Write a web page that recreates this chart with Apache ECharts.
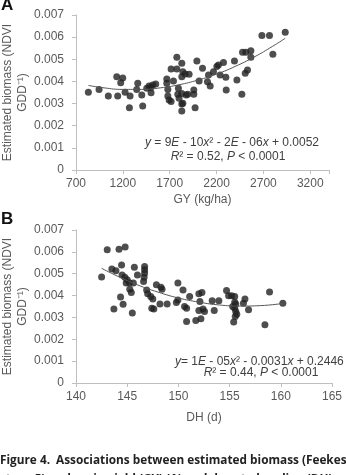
<!DOCTYPE html>
<html>
<head>
<meta charset="utf-8">
<script src="https://cdn.jsdelivr.net/npm/echarts@6/dist/echarts.min.js"></script>
<style>
html,body{margin:0;padding:0;background:#fff;}
#c{width:346px;height:475px;}
</style>
</head>
<body>
<div id="c"></div>
<script>
// Panel A: grain yield (kg/ha) vs estimated biomass
const gyA = [832,946,1045,1145,1135,1199,1177,1224,1277,1270,1348,1359,1402,1412,1455,1480,1498,1519,1551,1501,1669,1669,1680,1680,1694,1715,1740,1776,1715,1776,1829,1840,1829,1865,1793,1829,1800,1840,1829,1907,1893,1957,1957,1990,1971,2014,2050,2103,2114,2132,2167,2203,2220,2238,2274,2299,2303,2391,2417,2470,2477,2513,2506,2530,2566,2566,2684,2765,2801,2933,1786,1875,1829];
const bioA = [0.00351,0.00364,0.00334,0.00334,0.00421,0.00416,0.00394,0.00351,0.00334,0.00281,0.00364,0.00392,0.00339,0.00289,0.00369,0.00379,0.00373,0.00384,0.00388,0.00349,0.00411,0.00392,0.00364,0.00334,0.00316,0.00309,0.00402,0.00509,0.00456,0.00456,0.00482,0.00444,0.00421,0.00434,0.00369,0.00346,0.00324,0.00301,0.00266,0.00432,0.00342,0.00361,0.00342,0.00492,0.00281,0.00402,0.00459,0.00399,0.00429,0.00379,0.00444,0.00467,0.00474,0.00429,0.00486,0.00419,0.00361,0.00492,0.00407,0.00342,0.00532,0.00532,0.00437,0.00452,0.00539,0.00509,0.00607,0.00607,0.00523,0.00622,0.00342,0.00339,0.00298];
// Trend line A
const trendAx = [832,1000,1200,1400,1600,1800,2000,2200,2400,2600,2800,2933];
const trendAy = [0.00382,0.00371,0.00364,0.00364,0.00371,0.00385,0.00406,0.00433,0.00468,0.00510,0.00559,0.00595];

// Panel B: days to heading vs estimated biomass
const dhB = [142.5,143.05,144.2,144.8,143.5,143.9,144.45,144.5,144.77,145.0,145.2,144.9,145.6,145.7,146.0,145.25,145.4,144.35,144.6,143.7,145.5,146.7,146.7,146.7,146.65,146.6,146.9,147.0,147.3,147.5,147.4,147.6,147.85,148.3,148.4,148.2,148.9,149.95,150.45,149.95,149.8,150.6,150.8,151.1,152.0,152.3,152.1,152.0,152.4,152.55,151.7,152.2,150.8,153.3,153.95,153.5,154.7,154.9,155.2,155.5,155.5,155.3,155.6,155.5,155.6,155.7,155.55,155.4,156.35,156.5,156.85,158.9,158.45,160.2];
const bioB = [0.00485,0.00610,0.00612,0.00622,0.00521,0.00513,0.00540,0.00494,0.00484,0.00472,0.00459,0.00457,0.00457,0.00530,0.00494,0.00429,0.00414,0.00393,0.00360,0.00339,0.00320,0.00533,0.00518,0.00502,0.00484,0.00464,0.00426,0.00408,0.00396,0.00384,0.00342,0.00339,0.00449,0.00438,0.00429,0.00361,0.00361,0.00457,0.00426,0.00380,0.00368,0.00350,0.00342,0.00396,0.00408,0.00414,0.00373,0.00332,0.00338,0.00327,0.00286,0.00294,0.00281,0.00376,0.00376,0.00332,0.00423,0.00399,0.00399,0.00396,0.00370,0.00350,0.00361,0.00342,0.00327,0.00315,0.00304,0.00279,0.00365,0.00384,0.00335,0.00416,0.00266,0.00365];
const trendBx = [142.5,144,146,148,150,152,154,156,158,160.2];
const trendBy = [0.00525,0.00490,0.00449,0.00416,0.00389,0.00370,0.00357,0.00352,0.00354,0.00364];

const yTicks = ['0','0.001','0.002','0.003','0.004','0.005','0.006','0.007'];
const xTicksA = [700,1200,1700,2200,2700,3200];
const xTicksB = [140,145,150,155,160,165];

const zip = (a,b) => a.map((v,i)=>[v,b[i]]);
const FONT = '"Liberation Sans", Arial, sans-serif';
const axisCol = '#bfbfbf';
const labCol = '#595959';

function yAxis(gi){
  return {
    gridIndex: gi, type:'value', min:0, max:0.007, interval:0.001,
    axisLine:{show:true, lineStyle:{color:axisCol}},
    axisTick:{show:true, length:4, lineStyle:{color:axisCol}},
    splitLine:{show:false},
    axisLabel:{color:labCol, fontSize:12, fontFamily:FONT, margin:12,
      formatter:(v)=>{const i=Math.round(v/0.001); return yTicks[i]!==undefined?yTicks[i]:'';}},
    name:'Estimated biomass (NDVI\nGDD\u207B\u00B9)',
    nameLocation:'middle', nameGap:46, nameMoveOverlap:false,
    nameTextStyle:{color:labCol, fontSize:12, fontFamily:FONT, lineHeight:15}
  };
}
function xAxis(gi, min, max, interval, ticks, name, gap){
  return {
    gridIndex: gi, type:'value', min:min, max:max, interval:interval,
    axisLine:{show:true, onZero:false, lineStyle:{color:axisCol}},
    axisTick:{show:true, length:4, lineStyle:{color:axisCol}},
    splitLine:{show:false},
    axisLabel:{color:labCol, fontSize:12, fontFamily:FONT, margin:8,
      formatter:(v)=> ticks.indexOf(v)>=0 ? String(v) : ''},
    name:name, nameLocation:'middle', nameGap:gap, nameMoveOverlap:false,
    nameTextStyle:{color:labCol, fontSize:12, fontFamily:FONT}
  };
}

const chart = echarts.init(document.getElementById('c'), null, {renderer:'canvas'});
const rich = {i:{fontStyle:'italic', fill:'#404040', fontSize:12, fontFamily:FONT}};
chart.setOption({
  animation:false,
  grid:[
    {left:76, top:15, width:253, height:155, containLabel:false, outerBoundsMode:'none'},
    {left:76, top:230, width:256, height:153, containLabel:false, outerBoundsMode:'none'}
  ],
  xAxis:[
    xAxis(0,700,3400,500,xTicksA,'GY (kg/ha)',24),
    xAxis(1,140,165,5,xTicksB,'DH (d)',29)
  ],
  yAxis:[yAxis(0), yAxis(1)],
  series:[
    {type:'scatter', xAxisIndex:0, yAxisIndex:0, data:zip(gyA,bioA), symbolSize:7, itemStyle:{color:'#222'}},
    {type:'line', xAxisIndex:0, yAxisIndex:0, data:zip(trendAx,trendAy), smooth:true, showSymbol:false, lineStyle:{color:'#555', width:1}},
    {type:'scatter', xAxisIndex:1, yAxisIndex:1, data:zip(dhB,bioB), symbolSize:7, itemStyle:{color:'#222'}},
    {type:'line', xAxisIndex:1, yAxisIndex:1, data:zip(trendBx,trendBy), smooth:true, showSymbol:false, lineStyle:{color:'#555', width:1}}
  ],
  graphic:[
    {type:'text', left:1, top:-3, style:{text:'A', font:'bold 17px '+FONT, fill:'#111'}},
    {type:'text', left:1, top:211, style:{text:'B', font:'bold 17px '+FONT, fill:'#111'}},
    {type:'text', x:232, y:143, style:{text:'{i|y} = 9{i|E} - 10{i|x}\u00B2 - 2{i|E} - 06{i|x} + 0.0052', rich:rich, align:'center', verticalAlign:'middle', fill:'#404040', fontSize:12, fontFamily:FONT}},
    {type:'text', x:228, y:157, style:{text:'{i|R}\u00B2 = 0.52, {i|P} < 0.0001', rich:rich, align:'center', verticalAlign:'middle', fill:'#404040', fontSize:12, fontFamily:FONT}},
    {type:'text', x:175, y:362, style:{text:'{i|y}= 1{i|E} - 05{i|x}\u00B2 - 0.0031{i|x} + 0.2446', rich:rich, align:'left', verticalAlign:'middle', fill:'#404040', fontSize:12, fontFamily:FONT}},
    {type:'text', x:261, y:373, style:{text:'{i|R}\u00B2 = 0.44, {i|P} < 0.0001', rich:rich, align:'center', verticalAlign:'middle', fill:'#404040', fontSize:12, fontFamily:FONT}},
    {type:'text', x:0, y:461, style:{text:'Figure 4.  Associations between estimated biomass (Feekes', font:'bold 11.8px "Open Sans", sans-serif', fill:'#222', verticalAlign:'middle'}},
    {type:'text', x:0, y:480, style:{text:'stage 5) and grain yield (GY) (A) and days to heading (DH)', font:'bold 11.8px "Open Sans", sans-serif', fill:'#222', verticalAlign:'middle'}}
  ]
});
</script>
</body>
</html>
